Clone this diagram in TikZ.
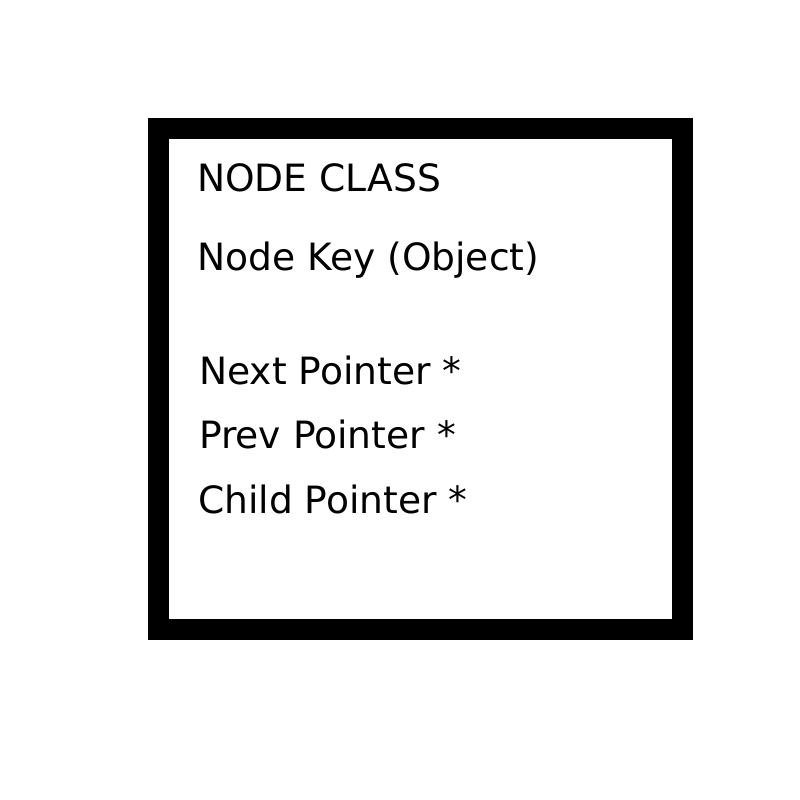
\documentclass[tikz,border=0pt]{standalone}
\usepackage{fontspec}
\setmainfont{DejaVu Sans}
\begin{document}
\begin{tikzpicture}[x=1bp,y=-1bp,
  lbl/.style={anchor=base west,inner sep=0pt,font=\fontsize{37.6bp}{45bp}\selectfont}]
\useasboundingbox (0,0) rectangle (800,800);
\draw[line width=21bp] (158.5,128.5) rectangle (682,629.5);
\node[lbl] (title) at (197,191) {NODE CLASS};
\node[lbl] (key) at (197,270) {Node Key (Object)};
\node[lbl] (next) at (199,384) {Next Pointer *};
\node[lbl] (prev) at (199,448) {Prev Pointer *};
\node[lbl] (child) at (198,513) {Child Pointer *};
\end{tikzpicture}
\end{document}
